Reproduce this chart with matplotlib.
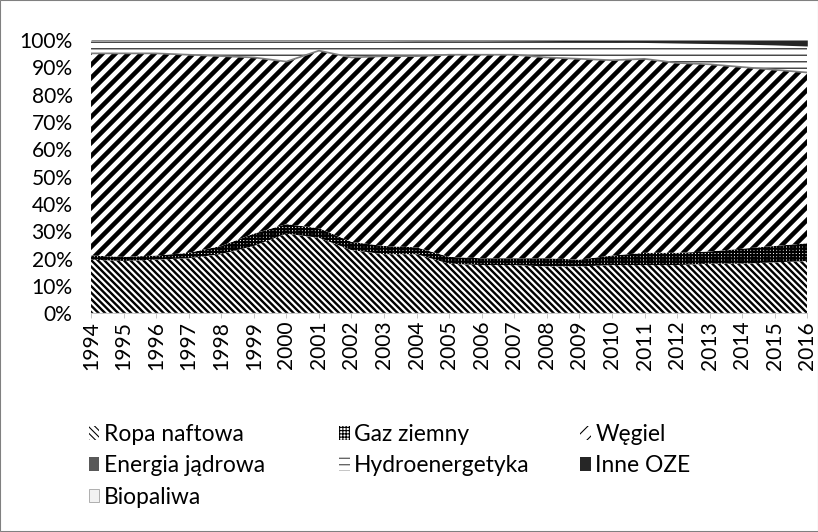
import numpy as np
import matplotlib
matplotlib.use('Agg')
import matplotlib.pyplot as plt
from matplotlib.patches import Patch, Rectangle

plt.rcParams['font.family'] = ['Lato', 'DejaVu Sans']

# udział nośników energii w zużyciu energii pierwotnej [%]
years = list(range(1994, 2017))
ropa = [19.5, 19, 19.5, 20, 21.5, 24.5, 29, 27.5, 23, 21.5, 21.5, 18, 17.5,
        17.5, 17, 17, 17.5, 17.5, 17.5, 18, 18, 18.5, 19]
gaz = [1.5, 1.5, 1.5, 2, 3, 4.5, 3.5, 3.5, 3, 3, 2.5, 2.5, 2.5, 2.5, 3, 2.5,
       3.5, 4.5, 4.5, 4.5, 5.5, 6, 6.5]
wegiel = [74, 74.5, 74, 72.5, 69.5, 64.5, 59.5, 65, 67.5, 69.5, 70, 74, 74.5,
          74.5, 73.5, 73.5, 71.5, 71, 69.5, 68.5, 66.5, 64.5, 62.5]
jadrowa = [0] * 23
hydro = [4.7, 4.7, 4.7, 5.2, 5.7, 6.2, 7.7, 3.7, 6.2, 5.7, 5.6, 5.1, 5.1, 5.0,
         5.9, 6.3, 6.7, 6.0, 7.3, 7.6, 8.4, 9.1, 9.7]
inne_oze = [0.2, 0.2, 0.2, 0.2, 0.2, 0.2, 0.2, 0.2, 0.2, 0.2, 0.3, 0.3, 0.3,
            0.4, 0.5, 0.6, 0.7, 0.9, 1.1, 1.3, 1.5, 1.8, 2.2]
biopaliwa = [0.1] * 23

labels = ['Ropa naftowa', 'Gaz ziemny', 'Węgiel', 'Energia jądrowa',
          'Hydroenergetyka', 'Inne OZE', 'Biopaliwa']
series = [ropa, gaz, wegiel, jadrowa, hydro, inne_oze, biopaliwa]

# wygląd warstw (wzory jak w Excelu)
styles = [
    dict(fc='white', ec='black', hatch='\\\\\\\\', hlw=2.2),
    dict(fc='white', ec='black', hatch='++++', hlw=2.0),
    dict(fc='white', ec='black', hatch='//', hlw=4.2),
    dict(fc='#595959', ec='#595959', hatch=None, hlw=1.0),
    dict(fc='white', ec='#404040', hatch='--', hlw=1.3),
    dict(fc='#262626', ec='#262626', hatch=None, hlw=1.0),
    dict(fc='#f2f2f2', ec='#a6a6a6', hatch=None, hlw=1.0),
]

DPI = 78
fig = plt.figure(figsize=(818.3 / DPI, 532.3 / DPI), dpi=DPI)
ax = fig.add_axes([91 / 818, 1 - 313 / 532, 716 / 818, 273 / 532])

base = np.zeros(len(years))
handles = {}
for vals, lab, st in zip(series, labels, styles):
    top = base + np.array(vals, dtype=float)
    with plt.rc_context({'hatch.linewidth': st['hlw']}):
        coll = ax.fill_between(years, base, top, facecolor=st['fc'],
                               edgecolor=st['ec'], hatch=st['hatch'],
                               linewidth=0)
        if hasattr(coll, 'set_hatch_linewidth'):
            coll.set_hatch_linewidth(st['hlw'])
        h = Patch(facecolor=st['fc'], edgecolor=st['ec'], hatch=st['hatch'],
                  linewidth=0.8 if lab == 'Biopaliwa' else 0, label=lab)
        if hasattr(h, 'set_hatch_linewidth'):
            h.set_hatch_linewidth(min(st['hlw'], 2.5))
    handles[lab] = h
    if lab == 'Węgiel':
        ax.plot(years, top, color='#7f7f7f', lw=1.6)
    base = top

ax.set_xlim(1994, 2016)
ax.set_ylim(0, 100)
ax.set_yticks(range(0, 101, 10))
ax.set_yticklabels([f'{v}%' for v in range(0, 101, 10)])
ax.set_xticks(years)
ax.set_xticklabels([str(y) for y in years], rotation=90)
ax.tick_params(axis='x', length=5, color='#bfbfbf', pad=2, labelsize=19.4)
ax.tick_params(axis='y', length=0, pad=17, labelsize=19.4)
for s in ['left', 'top', 'right']:
    ax.spines[s].set_visible(False)
ax.spines['bottom'].set_color('#bfbfbf')

# legenda w trzech kolumnach (wiersze jak w Excelu)
columns = [['Ropa naftowa', 'Energia jądrowa', 'Biopaliwa'],
           ['Gaz ziemny', 'Hydroenergetyka'],
           ['Węgiel', 'Inne OZE']]
col_x = [89, 339, 580]
for names, x0 in zip(columns, col_x):
    fig.legend([handles[k] for k in names], names, loc='upper left',
               bbox_to_anchor=(x0 / 818, 1 - 424 / 532), frameon=False,
               fontsize=21, borderpad=0, borderaxespad=0,
               handlelength=0.46, handleheight=0.52,
               handletextpad=0.2, labelspacing=0.45)

fig.add_artist(Rectangle((0.0006, 0.001), 0.9988, 0.998,
                         transform=fig.transFigure, fill=False,
                         edgecolor='#808080', lw=1))

fig.savefig('out.png', dpi=DPI)
